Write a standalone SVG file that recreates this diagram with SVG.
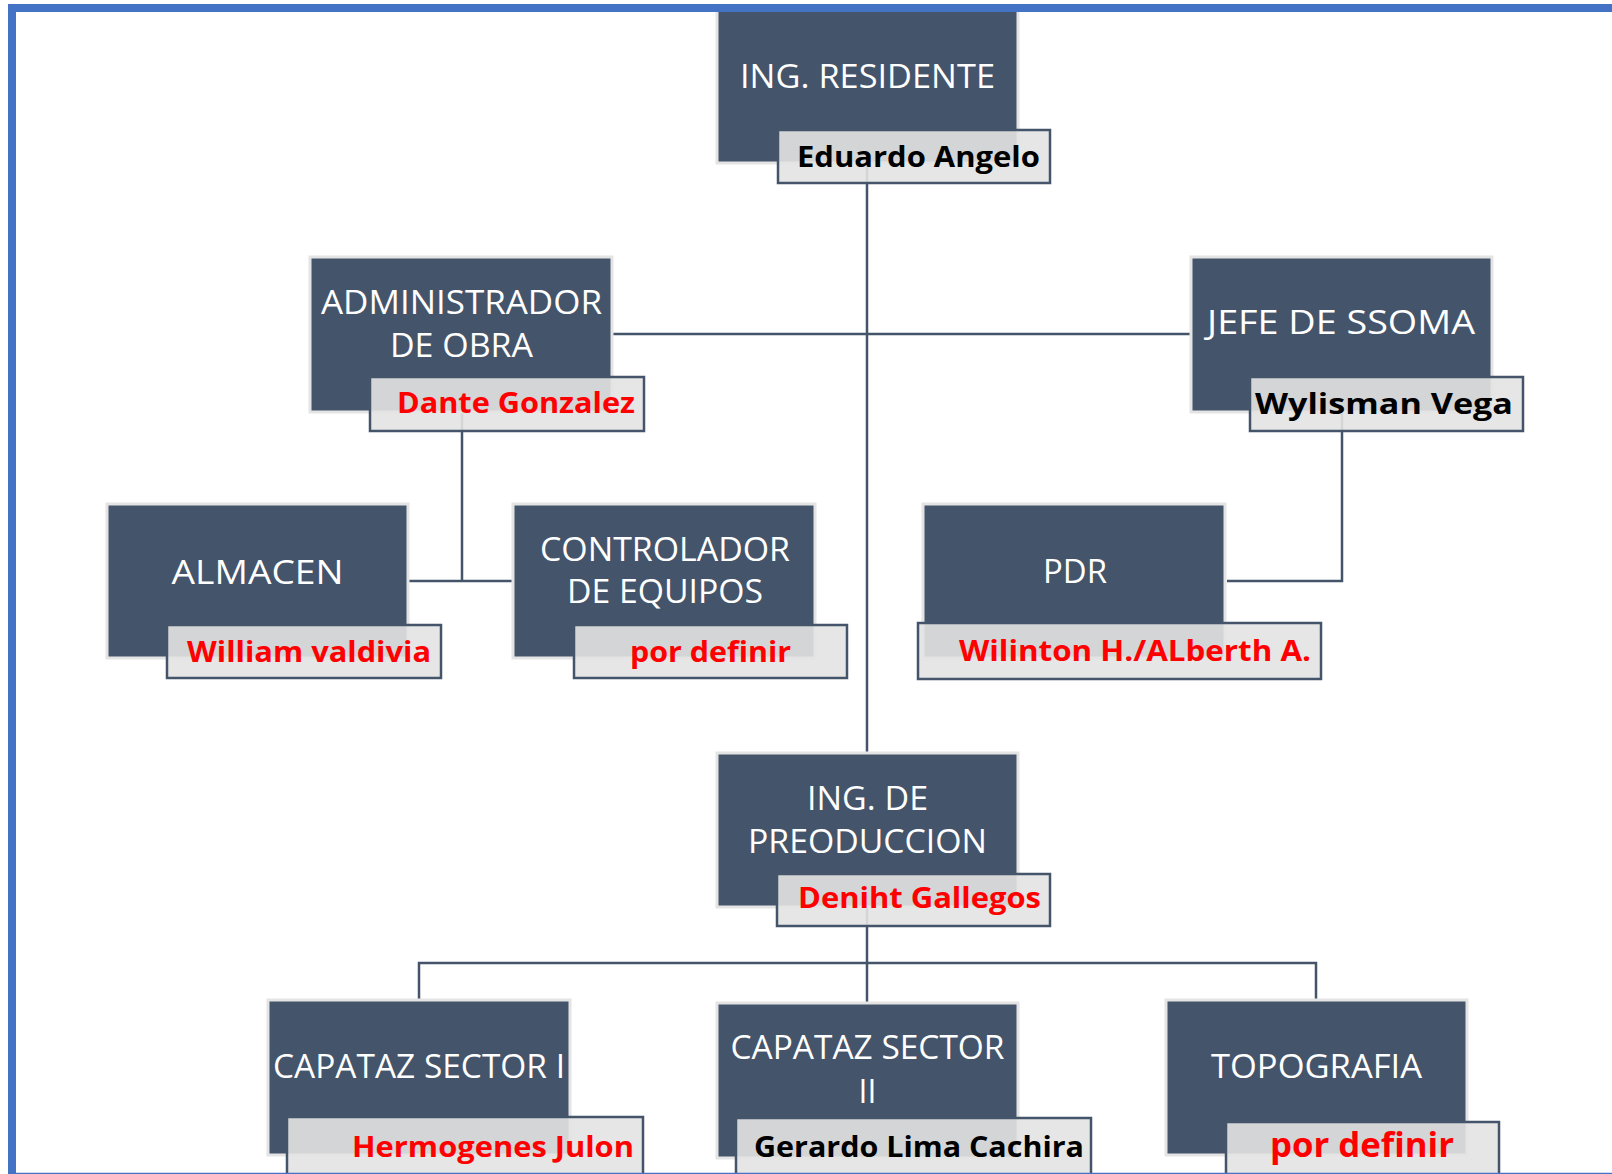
<svg xmlns="http://www.w3.org/2000/svg" width="1612" height="1174" viewBox="0 0 1612 1174">
<style>
.box{fill:#44546A;stroke:#e4e4e4;stroke-width:3}
.lbl{fill:#e3e3e3;fill-opacity:0.9;stroke:#44546A;stroke-width:2.5}
.t{font-family:"Open Sans","Liberation Sans",sans-serif;font-size:32px;fill:#ffffff;text-anchor:middle}
.n{font-family:"Open Sans","Liberation Sans",sans-serif;font-size:29px;font-weight:bold;text-anchor:middle}
.r{fill:#ff0000}
.k{fill:#000000}
.c{fill:none;stroke:#44546A;stroke-width:2.5}
</style>
<rect x="0" y="0" width="1612" height="1174" fill="#ffffff"/>
<g id="connectors">
<path class="c" d="M867 163V753"/>
<path class="c" d="M613 334H1191"/>
<path class="c" d="M462 412V581M409 581H513"/>
<path class="c" d="M1342 412V581H1227"/>
<path class="c" d="M867 907V1002"/>
<path class="c" d="M419 999V963H1316V999"/>
</g>
<g id="n-residente">
<rect class="box" x="717" y="10" width="301" height="153"/>
<text class="t" x="867.5" y="88" textLength="255" lengthAdjust="spacingAndGlyphs">ING. RESIDENTE</text>
<rect class="lbl" x="778" y="130" width="272" height="53"/>
<text class="n k" x="918.5" y="167" textLength="243" lengthAdjust="spacingAndGlyphs">Eduardo Angelo</text>
</g>
<g id="n-admin">
<rect class="box" x="310" y="257" width="302" height="155"/>
<text class="t" x="461.5" y="314" textLength="281" lengthAdjust="spacingAndGlyphs">ADMINISTRADOR</text>
<text class="t" x="461.5" y="357" textLength="143" lengthAdjust="spacingAndGlyphs">DE OBRA</text>
<rect class="lbl" x="370" y="377" width="274" height="54"/>
<text class="n r" x="516" y="413" textLength="238" lengthAdjust="spacingAndGlyphs">Dante Gonzalez</text>
</g>
<g id="n-ssoma">
<rect class="box" x="1191" y="257" width="301" height="155"/>
<text class="t" x="1341" y="334" textLength="268" lengthAdjust="spacingAndGlyphs">JEFE DE SSOMA</text>
<rect class="lbl" x="1250" y="377" width="273" height="54"/>
<text class="n k" x="1384" y="414" textLength="258" lengthAdjust="spacingAndGlyphs">Wylisman Vega</text>
</g>
<g id="n-almacen">
<rect class="box" x="107" y="504" width="301" height="154"/>
<text class="t" x="257.5" y="584" textLength="172" lengthAdjust="spacingAndGlyphs">ALMACEN</text>
<rect class="lbl" x="167" y="625" width="274" height="53"/>
<text class="n r" x="309" y="662" textLength="244" lengthAdjust="spacingAndGlyphs">William valdivia</text>
</g>
<g id="n-controlador">
<rect class="box" x="513" y="504" width="302" height="154"/>
<text class="t" x="665" y="561" textLength="250" lengthAdjust="spacingAndGlyphs">CONTROLADOR</text>
<text class="t" x="665" y="603" textLength="196" lengthAdjust="spacingAndGlyphs">DE EQUIPOS</text>
<rect class="lbl" x="574" y="625" width="273" height="53"/>
<text class="n r" x="710.5" y="662" textLength="161" lengthAdjust="spacingAndGlyphs">por definir</text>
</g>
<g id="n-pdr">
<rect class="box" x="923" y="504" width="302" height="154"/>
<text class="t" x="1075" y="583" textLength="64" lengthAdjust="spacingAndGlyphs">PDR</text>
<rect class="lbl" x="918" y="623" width="403" height="56"/>
<text class="n r" x="1135" y="661" textLength="352" lengthAdjust="spacingAndGlyphs">Wilinton H./ALberth A.</text>
</g>
<g id="n-produccion">
<rect class="box" x="717" y="753" width="301" height="154"/>
<text class="t" x="867.5" y="810" textLength="121" lengthAdjust="spacingAndGlyphs">ING. DE</text>
<text class="t" x="867.5" y="853" textLength="239" lengthAdjust="spacingAndGlyphs">PREODUCCION</text>
<rect class="lbl" x="777" y="874" width="273" height="52"/>
<text class="n r" x="919.5" y="908" textLength="243" lengthAdjust="spacingAndGlyphs">Deniht Gallegos</text>
</g>
<g id="n-sector1">
<rect class="box" x="268" y="1000" width="302" height="155"/>
<text class="t" x="419" y="1078" textLength="292" lengthAdjust="spacingAndGlyphs">CAPATAZ SECTOR I</text>
<rect class="lbl" x="287" y="1117" width="356" height="70"/>
<text class="n r" x="493" y="1157" textLength="282" lengthAdjust="spacingAndGlyphs">Hermogenes Julon</text>
</g>
<g id="n-sector2">
<rect class="box" x="717" y="1003" width="301" height="155"/>
<text class="t" x="867.5" y="1059" textLength="274" lengthAdjust="spacingAndGlyphs">CAPATAZ SECTOR</text>
<text class="t" x="867.5" y="1103">II</text>
<rect class="lbl" x="736" y="1118" width="355" height="70"/>
<text class="n k" x="919" y="1157" textLength="330" lengthAdjust="spacingAndGlyphs">Gerardo Lima Cachira</text>
</g>
<g id="n-topografia">
<rect class="box" x="1166" y="1000" width="301" height="155"/>
<text class="t" x="1316.5" y="1078" textLength="211" lengthAdjust="spacingAndGlyphs">TOPOGRAFIA</text>
<rect class="lbl" x="1226" y="1122" width="273" height="66"/>
<text class="n r" x="1362" y="1157" style="font-size:34px" textLength="184" lengthAdjust="spacingAndGlyphs">por definir</text>
</g>
<g id="frame">
<path d="M12 1174V8H1612" fill="none" stroke="#4472C4" stroke-width="8"/>
<path d="M8 1173.5H1612" fill="none" stroke="#4472C4" stroke-width="1.5"/>
</g>
</svg>
